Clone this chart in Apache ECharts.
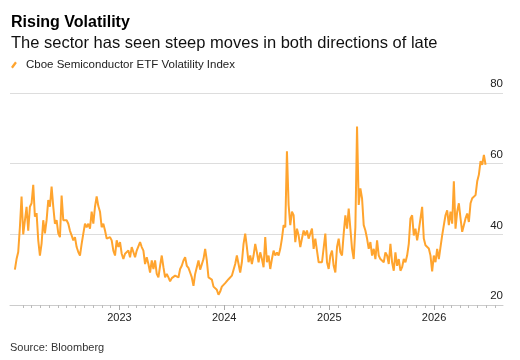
<!DOCTYPE html>
<html>
<head>
<meta charset="utf-8">
<script src="https://cdn.jsdelivr.net/npm/echarts@6/dist/echarts.min.js"></script>
<style>
html,body{margin:0;padding:0;background:#fff;}
#chart{width:520px;height:360px;}
</style>
</head>
<body>
<div id="chart"></div>
<script>
// Cboe Semiconductor ETF Volatility Index, sampled roughly every 4 trading days
const volA = [30,33,35,42,50.7,40,40,47.8,41,47.8,48.8,54,45,46,38.3,34,37.4,44,40.3,44,49.7,47.8,53.5,47.8,43,44,40.3,39.2,51,44,44,44,43];
const volB = [41,39.7,38.3,39.2,36.4,35,34,37.3,40.2,43,42,43,41.6,46.4,43,47.8,50.7,48,46.4,42,43,41.1,38.8,38.3,39.2,38.3,35.4,34,38.3,36.4,37.8,34.5,33,34.5,34,35.4];
const volC = [33.5,36.4,36,33.5,35.4,35.4,37.8,36.4,35.4,31.6,33.5,31.6,29.2,32.6,30.2,32.6,28.8,27.8,31.1,34,30.7,27.8,28.8,27.8,26.7,27.6,27.2,28.3,28.8,27.8,30.2,31.1,32.6,33.5,31.1,30.5];
const volD = [29.2,27.8,25.4,28.8,30.7,32.6,30,31.5,33,35.9,32.6,27.8,28.3,27.2,25.2,24.8,24.3,22.9,23.8,25.2,24.8,26.2,25.7,27.3,27.2,28.3,28.8,31.6,34,33.5,29.2,32.1,37.3,40.2,36.4,32.1];
const volE = [34,31.6,34,37.3,34.9,32.1,34.9,33,30.7,39.2,32.1,34,30.2,33,35.4,34,34.9,34,35.9,38.8,42.6,42,63.5,48.3,42.6,46.4,45.4,37.8,41.6,39.7,36.4,38.8,41.1,39.7,41.1,38.8];
const volF = [39.2,41.6,35.9,38.8,35.4,32.1,31.6,32.1,32.6,40.2,32.1,30.2,34,35.4,31.1,29.2,36.4,38.8,34.9,34,40.2,45.4,41.6,47.3,41.6,35.9,33,42,70.5,48.3,53,50.2,42.6,41.1,38.8,35.9];
const volG = [37.8,34,35.9,33,38.3,34,33,33.5,32.1,34.9,34,31.6,37.3,32.1,29.7,34.9,31.1,33,29.7,30.7,33,32.1,34,37.3,44.5,45.4,39.7,41.6,38.3,41.1,41.1,47.8,38.8,36.9,36.4,36];
const volH = [34,29.5,34,32.1,35.9,33,36.4,39.7,42.6,45.4,46.8,42.6,46.4,43,55,41.6,46.4,48.8,44.5,40.7,42.6,44.5,45.9,43.5,48.8,50.2,49.7,51.1,55,56.9,60.7,59.7,62.5,59.7];

const values = [].concat(volA, volB, volC, volD, volE, volF, volG, volH);
const startDate = Date.UTC(2022, 0, 2);
const stepDays = 5.813;
const DAY = 86400000;

const yearTicks = [2023, 2024, 2025, 2026];
const yTicks = [20, 40, 60, 80];
const axisStart = Date.UTC(2021, 11, 16);
const axisEnd = Date.UTC(2026, 7, 29);

const seriesData = values.map((v, i) => [startDate + i * stepDays * DAY, v]);

const monthTicks = [];
for (let y = 2022; y <= 2026; y++) {
  for (let m = 0; m < 12; m++) {
    const t = Date.UTC(y, m, 1);
    if (t > axisStart + 20 * DAY && t < axisEnd && m !== 0) monthTicks.push(t);
  }
}
const yearValues = yearTicks.map(y => Date.UTC(y, 0, 1));

const chart = echarts.init(document.getElementById('chart'), null, {renderer: 'canvas'});
const FONT = '"Liberation Sans", Arial, Helvetica, sans-serif';
const orange = '#FFA42E';

chart.setOption({
  animation: false,
  backgroundColor: '#fff',
  textStyle: {fontFamily: FONT},
  title: [
    {text: 'Rising Volatility', left: 11, top: 15, padding: 0, textStyle: {fontFamily: FONT, fontSize: 16, fontWeight: 'bold', color: '#000'}},
    {text: 'The sector has seen steep moves in both directions of late', left: 11, top: 35, padding: 0, textStyle: {fontFamily: FONT, fontSize: 16.5, fontWeight: 'normal', color: '#111'}},
    {text: 'Source: Bloomberg', left: 10, top: 342, padding: 0, textStyle: {fontFamily: FONT, fontSize: 11, fontWeight: 'normal', color: '#333'}}
  ],
  legend: {
    left: 11, top: 59, padding: 0,
    itemWidth: 6, itemHeight: 7,
    icon: 'path://M0,7.5 L5.5,0 L8,2 L2.5,9.5 Z',
    textStyle: {fontFamily: FONT, fontSize: 11.5, color: '#222', padding: [0, 0, 0, 4]},
    data: [{name: 'Cboe Semiconductor ETF Volatility Index', itemStyle: {color: orange}}]
  },
  grid: {left: 10, right: 17, top: 93, bottom: 55, containLabel: false},
  xAxis: [
    {
      type: 'value', min: axisStart, max: axisEnd,
      axisLine: {show: true, lineStyle: {color: '#ccc', width: 1}},
      axisTick: {show: true, customValues: monthTicks, length: 3, lineStyle: {color: '#bbb'}},
      axisLabel: {show: false},
      splitLine: {show: false}
    },
    {
      type: 'value', min: axisStart, max: axisEnd, position: 'bottom',
      axisLine: {show: false},
      axisTick: {show: true, customValues: yearValues, length: 5, lineStyle: {color: '#aaa'}},
      axisLabel: {
        show: true, customValues: yearValues, margin: 7,
        fontFamily: FONT, fontSize: 11, color: '#222',
        formatter: v => String(new Date(v).getUTCFullYear())
      },
      splitLine: {show: false}
    }
  ],
  yAxis: {
    type: 'value', position: 'right', min: 20, max: 80, interval: 20,
    axisLine: {show: false}, axisTick: {show: false},
    axisLabel: {inside: true, margin: 0, align: 'right', verticalAlign: 'bottom', padding: [0, 0, 3, 0], fontFamily: FONT, fontSize: 11.5, color: '#222',
      formatter: v => yTicks.includes(v) ? String(v) : ''},
    splitLine: {show: true, lineStyle: {color: '#ddd', width: 1}}
  },
  series: [{
    name: 'Cboe Semiconductor ETF Volatility Index',
    type: 'line', xAxisIndex: 0,
    data: seriesData,
    showSymbol: false, symbol: 'none',
    lineStyle: {color: orange, width: 2},
    itemStyle: {color: orange}
  }]
});
</script>
</body>
</html>
